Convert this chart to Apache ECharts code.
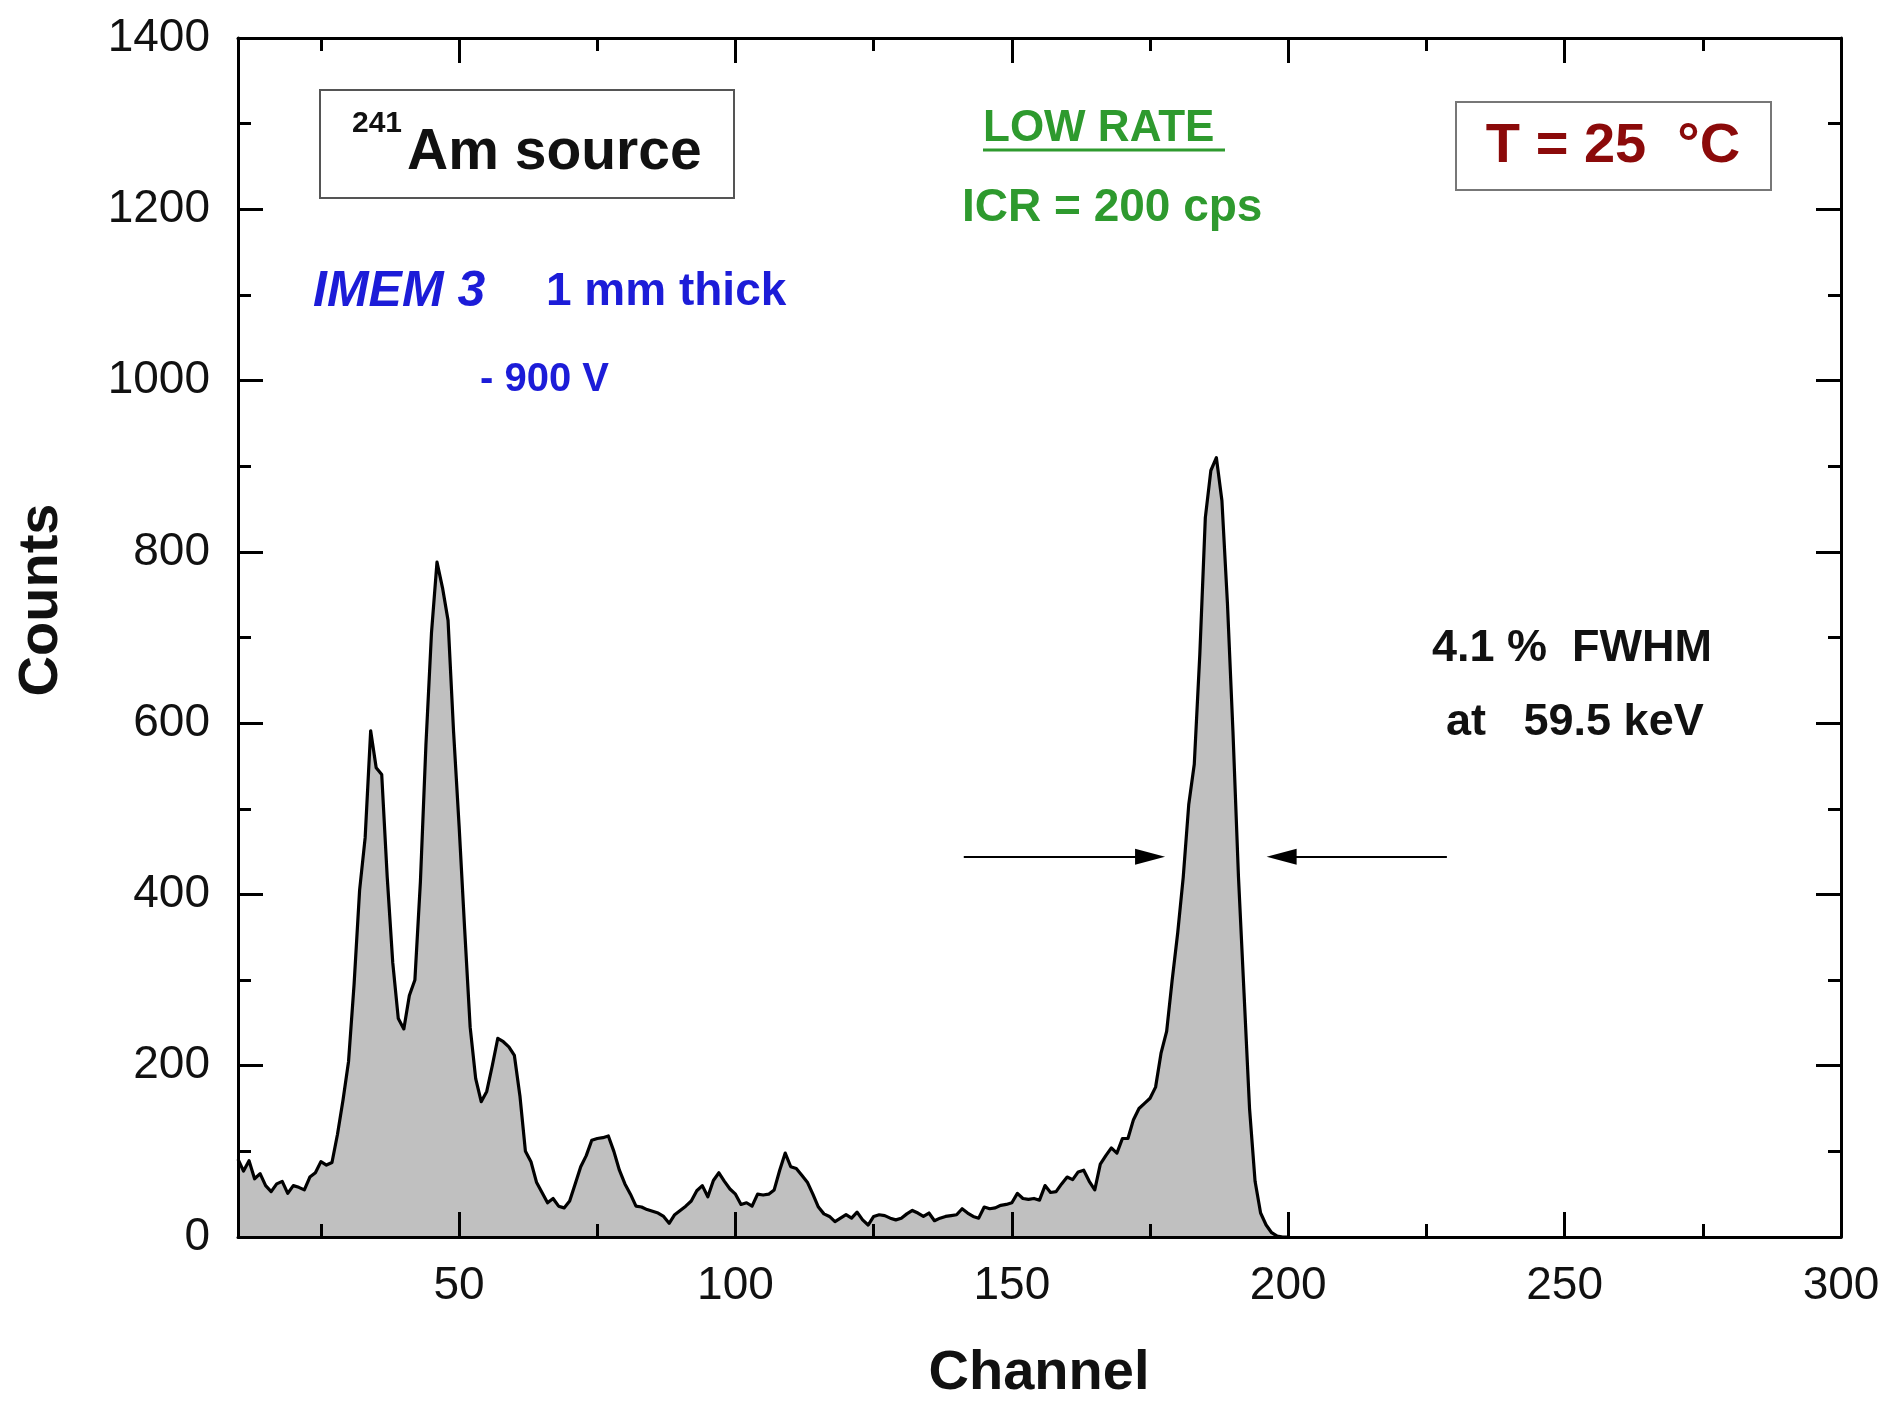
<!DOCTYPE html>
<html>
<head>
<meta charset="utf-8">
<script src="https://cdn.jsdelivr.net/npm/echarts@6/dist/echarts.min.js"></script>
<style>
html,body{margin:0;padding:0;background:#fff;}
#chart{width:1881px;height:1405px;}
</style>
</head>
<body>
<div id="chart"></div>
<script>
// ---- data ----
const firstChannel = 10;
// counts per channel, starting at channel 10
const counts = [
  91, 77, 89, 68, 74, 60, 53, 62, 65, 51,      // 10-19
  60, 58, 55, 70, 75, 88, 84, 87, 120, 160,    // 20-29
  205, 295, 405, 466, 591, 548, 540, 420, 320, 255, // 30-39
  243, 282, 300, 415, 575, 705, 788, 758, 720, 590, // 40-49
  480, 360, 245, 185, 158, 170, 200, 232, 228, 222, // 50-59
  212, 165, 100, 88, 64, 52, 40, 45, 36, 34,   // 60-69
  42, 62, 82, 95, 113, 115, 116, 118, 100, 78, // 70-79
  62, 50, 36, 35, 32, 30, 28, 24, 16, 26,      // 80-89
  31, 36, 42, 54, 60, 47, 66, 75, 65, 56,      // 90-99
  50, 38, 40, 36, 50, 49, 50, 55, 78, 98,      // 100-109
  82, 80, 72, 64, 50, 35, 27, 24, 18, 22,      // 110-119
  26, 22, 29, 20, 14, 24, 26, 25, 22, 20,      // 120-129
  22, 27, 31, 28, 24, 28, 19, 22, 24, 25,      // 130-139
  26, 33, 28, 24, 22, 35, 33, 34, 37, 38,      // 140-149
  40, 51, 45, 44, 45, 43, 60, 52, 53, 62,      // 150-159
  70, 67, 76, 78, 65, 55, 85, 95, 104, 98,     // 160-169
  115, 115, 137, 150, 156, 162, 175, 215, 240, 300, // 170-179
  355, 420, 505, 552, 680, 840, 895, 910, 860, 740, // 180-189
  590, 420, 285, 150, 65, 28, 14, 5, 1, 0,     // 190-199
  0                                            // 200
];
const xLabelValues = [50, 100, 150, 200, 250, 300];
const xMinorValues = [25, 75, 125, 175, 225, 275];
// FWHM arrows: [fromChannel, toChannel, level]
const arrowLeft = [141.3, 175.0, 444];
const arrowRight = [228.7, 198.8, 444];

// ---- chart ----
const seriesData = counts.map((v, i) => [firstChannel + i, v]);
const FONT = '"Liberation Sans", Arial, Helvetica, sans-serif';

function xAx(position, values, len, showLabel, showLine) {
  return {
    type: 'value', min: 10, max: 300, position: position, z: 5,
    axisLine: { show: showLine, onZero: false, lineStyle: { color: '#000', width: 3 } },
    axisTick: { show: true, inside: true, length: len, customValues: values,
                lineStyle: { color: '#000', width: 3 } },
    axisLabel: { show: showLabel, customValues: values, fontSize: 46, margin: 26,
                 color: '#111', fontFamily: FONT, formatter: (v) => String(v) },
    splitLine: { show: false }, minorTick: { show: false }
  };
}
function yAx(position, showLabel) {
  return {
    type: 'value', min: 0, max: 1400, interval: 200, position: position, z: 5,
    axisLine: { show: true, onZero: false, lineStyle: { color: '#000', width: 3 } },
    axisTick: { show: true, inside: true, length: 25, lineStyle: { color: '#000', width: 3 } },
    minorTick: { show: true, splitNumber: 2, length: 13, lineStyle: { color: '#000', width: 3 } },
    axisLabel: { show: showLabel, fontSize: 46, margin: 28, color: '#111', fontFamily: FONT,
                 formatter: (v) => String(v) },
    splitLine: { show: false }, minorSplitLine: { show: false }
  };
}
function txt(x, y, text, font, fill, align) {
  return { type: 'text', x: x, y: y, z: 20,
    style: { text: text, font: font, fill: fill,
             textAlign: align || 'left', textVerticalAlign: 'middle',
             align: align || 'left', verticalAlign: 'middle' } };
}

const chart = echarts.init(document.getElementById('chart'), null, { renderer: 'canvas' });
chart.setOption({
  animation: false,
  backgroundColor: '#fff',
  grid: { left: 238, top: 38, right: 40, bottom: 168, containLabel: false, outerBoundsMode: 'none' },
  xAxis: [
    xAx('bottom', xLabelValues, 25, true, true),
    xAx('bottom', xMinorValues, 13, false, false),
    xAx('top', xLabelValues, 25, false, true),
    xAx('top', xMinorValues, 13, false, false)
  ],
  yAxis: [ yAx('left', true), yAx('right', false) ],
  series: [{
    type: 'line', xAxisIndex: 0, yAxisIndex: 0, data: seriesData,
    showSymbol: false, symbol: 'none', z: 2,
    lineStyle: { color: '#000', width: 3.2, join: 'round' },
    areaStyle: { color: '#c0c0c0', opacity: 1 },
    markLine: {
      silent: true, animation: false,
      symbol: ['none', 'triangle'], symbolSize: [16, 30],
      label: { show: false },
      lineStyle: { color: '#000', width: 2, type: 'solid' },
      data: [
        [{ coord: [arrowLeft[0], arrowLeft[2]] }, { coord: [arrowLeft[1], arrowLeft[2]] }],
        [{ coord: [arrowRight[0], arrowRight[2]] }, { coord: [arrowRight[1], arrowRight[2]] }]
      ]
    }
  }],
  graphic: [
    { type: 'rect', z: 15, shape: { x: 320, y: 90, width: 414, height: 108 },
      style: { fill: '#fff', stroke: '#555', lineWidth: 2 } },
    txt(352, 124, '241', 'bold 30px ' + FONT, '#111'),
    txt(407, 153, 'Am source', 'bold 57px ' + FONT, '#111'),
    txt(313, 292, 'IMEM 3', 'italic bold 50px ' + FONT, '#1c1cd8'),
    txt(546, 292, '1 mm thick', 'bold 46px ' + FONT, '#1c1cd8'),
    txt(480, 380, '- 900 V', 'bold 40px ' + FONT, '#1c1cd8'),
    txt(983, 129, 'LOW RATE', 'bold 44px ' + FONT, '#2e9a2e'),
    { type: 'line', z: 20, shape: { x1: 983, y1: 150, x2: 1225, y2: 150 },
      style: { stroke: '#2e9a2e', lineWidth: 3 } },
    txt(962, 208, 'ICR = 200 cps', 'bold 46px ' + FONT, '#2e9a2e'),
    { type: 'rect', z: 15, shape: { x: 1456, y: 102, width: 315, height: 88 },
      style: { fill: '#fff', stroke: '#777', lineWidth: 2 } },
    txt(1613, 147, 'T = 25  °C', 'bold 56px ' + FONT, '#8b0a0a', 'center'),
    txt(1432, 649, '4.1 %  FWHM', 'bold 45px ' + FONT, '#111'),
    txt(1446, 723, 'at   59.5 keV', 'bold 45px ' + FONT, '#111'),
    txt(1039, 1374, 'Channel', 'bold 56px ' + FONT, '#111', 'center'),
    { type: 'text', x: 42, y: 600, rotation: Math.PI / 2, z: 20,
      style: { text: 'Counts', font: 'bold 56px ' + FONT, fill: '#111',
               textAlign: 'center', textVerticalAlign: 'middle', align: 'center', verticalAlign: 'middle' } }
  ]
});
</script>
</body>
</html>
